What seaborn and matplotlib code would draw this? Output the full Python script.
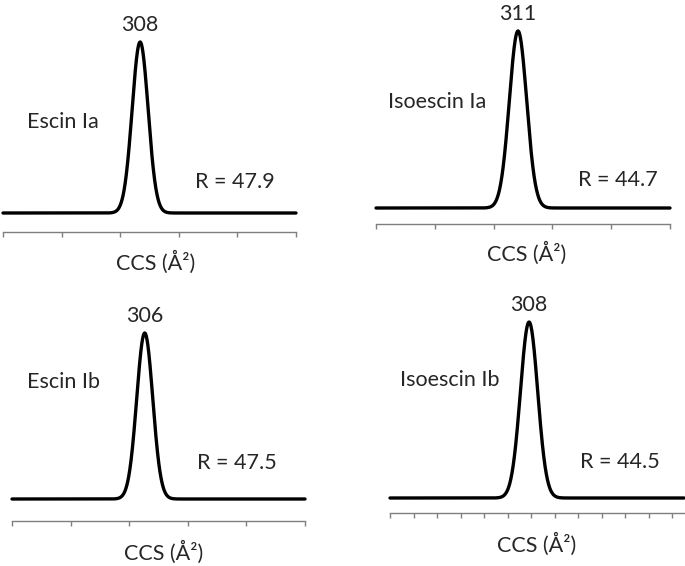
import numpy as np
import pandas as pd
import matplotlib
matplotlib.use('Agg')
import matplotlib.pyplot as plt
import seaborn as sns

# Datos de los picos (CCS en Å², resolución R)
compuestos = ['Escin Ia', 'Isoescin Ia', 'Escin Ib', 'Isoescin Ib']
ccs_pico = [308, 311, 306, 308]
resolucion = [47.9, 44.7, 47.5, 44.5]

sns.set_style('white')
plt.rcParams['font.family'] = ['Lato', 'DejaVu Sans']

W, H = 685, 566
fig = plt.figure(figsize=(W / 100, H / 100), dpi=100)


def px(x, y):
    # pixeles -> fracción de figura
    return x / W, 1 - y / H


# Geometría de cada panel en pixeles: x0, x1, eje, línea base, cima
paneles = [
    (3, 296, 232, 213, 42),
    (376, 670, 224, 208, 31),
    (12, 305, 521, 499, 333),
    (390, 684, 513, 498, 322),
]
xmin = [261.2, 262.7, 260.7, 260.7]
paso = [20, 20, 20, 8]
pos_nombre = [(27, 122), (388, 102), (27, 382), (400, 380)]
pos_r = [(195, 182), (578, 180), (197, 463), (580, 462)]
pos_xlabel = [(156, 262), (527, 253), (164, 552), (537, 544)]

fs = 15.5
for i, (x0, x1, ya, yb, yt) in enumerate(paneles):
    ax = fig.add_axes([x0 / W, 1 - ya / H, (x1 - x0) / W, (ya - yt) / H])
    f = (ya - yb) / (ya - yt)
    ymin = -f / (1 - f)

    # Pico gaussiano con FWHM = CCS / R
    fwhm = ccs_pico[i] / resolucion[i]
    sigma = fwhm / 2.3548
    x = np.linspace(xmin[i], xmin[i] + 100, 1500)
    df = pd.DataFrame({'ccs': x,
                       'int': np.exp(-0.5 * ((x - ccs_pico[i]) / sigma) ** 2)})
    sns.lineplot(data=df, x='ccs', y='int', ax=ax, color='black',
                 linewidth=2.4, clip_on=False)

    ax.set_xlim(xmin[i], xmin[i] + 100)
    ax.set_ylim(ymin, 1)
    ax.set_xticks(np.arange(xmin[i], xmin[i] + 100.01, paso[i]))
    ax.set_xticklabels([])
    ax.set_yticks([])
    ax.set_xlabel('')
    ax.set_ylabel('')
    for s in ['top', 'right', 'left']:
        ax.spines[s].set_visible(False)
    ax.spines['bottom'].set_color('#7f7f7f')
    ax.spines['bottom'].set_linewidth(1.0)
    ax.tick_params(axis='x', direction='out', length=3.5, width=1.0,
                   color='#7f7f7f', bottom=True)
    ax.patch.set_alpha(0)

    ax.annotate(str(ccs_pico[i]), (ccs_pico[i], 1), xytext=(0, 8),
                textcoords='offset points', ha='center', va='baseline',
                fontsize=fs, annotation_clip=False)
    fig.text(*px(*pos_nombre[i]), compuestos[i], fontsize=fs,
             ha='left', va='center')
    fig.text(*px(*pos_r[i]), 'R = %.1f' % resolucion[i], fontsize=fs,
             ha='left', va='center')
    fig.text(*px(*pos_xlabel[i]), 'CCS (Å²)', fontsize=fs,
             ha='center', va='center')

fig.savefig('out.png', dpi=100)
